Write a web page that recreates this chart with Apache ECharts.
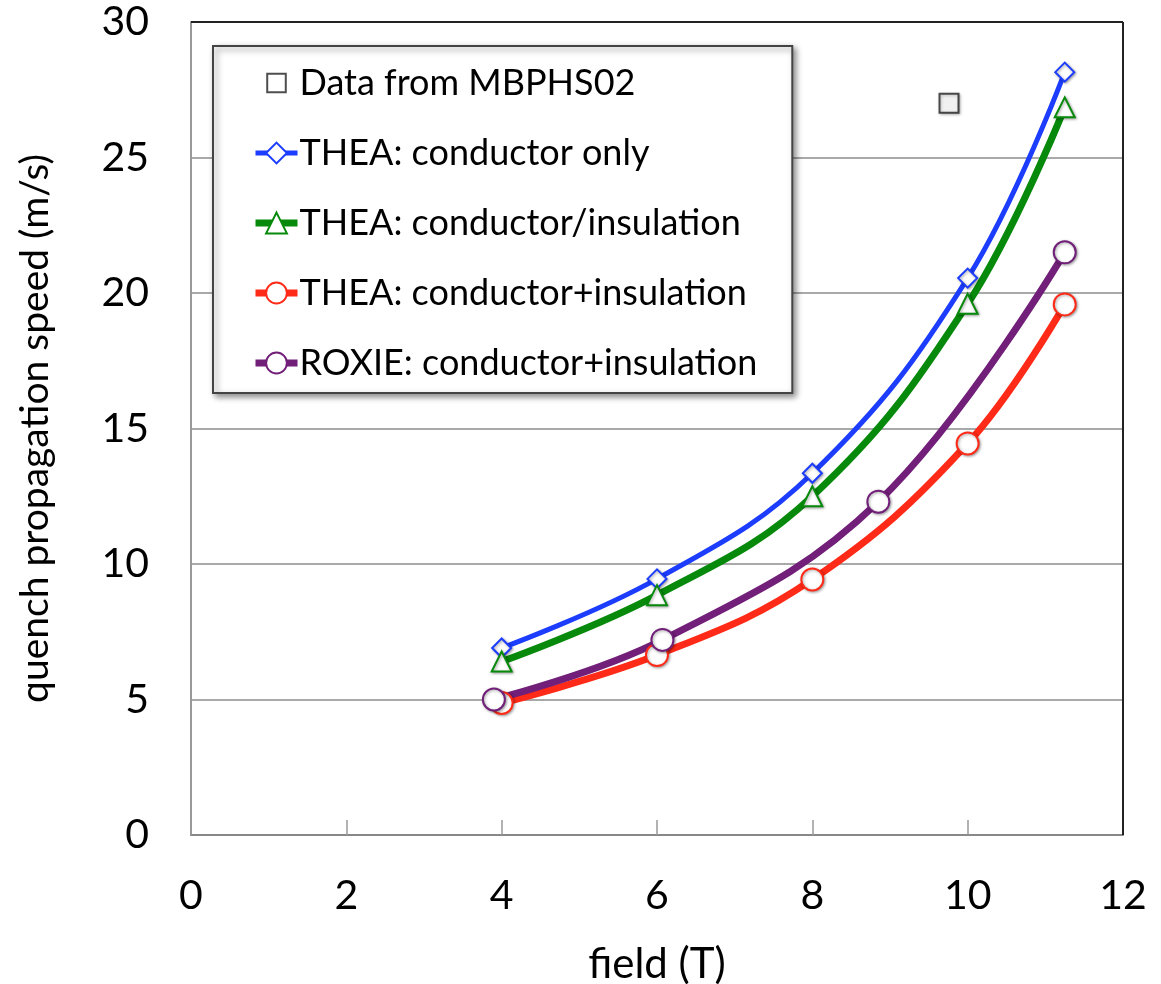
<!DOCTYPE html>
<html>
<head>
<meta charset="utf-8">
<script src="https://cdn.jsdelivr.net/npm/echarts@6/dist/echarts.min.js"></script>
<style>
html,body{margin:0;padding:0;background:#fff;}
#c{width:1161px;height:984px;}
</style>
</head>
<body>
<div id="c"></div>
<script>
// ---- data ----
const fieldTHEA = [4, 6, 8, 10, 11.25];
const theaConductorOnly = [6.9, 9.45, 13.35, 20.55, 28.15];
const theaConductorSlashInsulation = [6.4, 8.85, 12.5, 19.6, 26.85];
const theaConductorPlusInsulation = [4.87, 6.64, 9.43, 14.45, 19.58];
const fieldROXIE = [3.9, 6.07, 8.85, 11.25];
const roxieConductorPlusInsulation = [5.0, 7.2, 12.3, 21.5];
const measuredField = [9.76];
const measuredSpeed = [27.0];
const seriesNames = ['Data from MBPHS02', 'THEA: conductor only', 'THEA: conductor/insulation', 'THEA: conductor+insulation', 'ROXIE: conductor+insulation'];
const xTicks = [0, 2, 4, 6, 8, 10, 12];
const yTicks = [0, 5, 10, 15, 20, 25, 30];

const zip = (xs, ys) => xs.map((x, i) => [x, ys[i]]);
const FONT = 'Lato';

const chart = echarts.init(document.getElementById('c'));
const markerShadow = {shadowColor: 'rgba(0,0,0,0.35)', shadowBlur: 3, shadowOffsetX: 1, shadowOffsetY: 1};

function lineSeries(name, data, color, width, symbol, size) {
  return {
    name: name, type: 'line', data: data, smooth: 0.4,
    symbol: symbol, symbolSize: size, showAllSymbol: true,
    lineStyle: {color: color, width: width},
    itemStyle: Object.assign({color: '#fff', borderColor: color, borderWidth: 2}, markerShadow),
    emphasis: {disabled: true}, z: 3
  };
}

const legendData = seriesNames.map((n, i) => i === 0
  ? {name: n, icon: 'path://M-2,-2M0,0L10,0L10,10L0,10Z M12,12'}
  : {name: n});

chart.setOption({
  animation: false,
  grid: {left: 191, right: 38, top: 22, bottom: 149, containLabel: false, outerBoundsMode: 'none'},
  xAxis: {
    type: 'value', min: 0, max: 12, interval: 2,
    name: 'field (T)', nameLocation: 'middle', nameGap: 108,
    nameTextStyle: {fontFamily: FONT, fontSize: 42, color: '#000'},
    axisLine: {show: true, lineStyle: {color: '#888', width: 2}},
    axisTick: {show: true, inside: true, length: 15, lineStyle: {color: '#999', width: 1.5}},
    axisLabel: {fontFamily: FONT, fontSize: 41, color: '#000', margin: 40,
      formatter: v => xTicks.includes(v) ? String(v) : ''},
    splitLine: {show: false}
  },
  yAxis: {
    type: 'value', min: 0, max: 30, interval: 5,
    name: 'quench propagation speed (m/s)', nameLocation: 'middle', nameGap: 136,
    nameTextStyle: {fontFamily: FONT, fontSize: 39, color: '#000'},
    axisLine: {show: true, lineStyle: {color: '#999', width: 2}},
    axisTick: {show: false},
    axisLabel: {fontFamily: FONT, fontSize: 41, color: '#000', margin: 42,
      formatter: v => yTicks.includes(v) ? String(v) : ''},
    splitLine: {show: true, lineStyle: {color: '#8c8c8c', width: 1.5}}
  },
  legend: {
    orient: 'vertical', left: 213, top: 46,
    padding: [19, 35, 12, 39],
    itemWidth: 42, itemHeight: 26, itemGap: 34,
    backgroundColor: '#fff', borderColor: '#444', borderWidth: 2,
    shadowColor: 'rgba(0,0,0,0.45)', shadowBlur: 6, shadowOffsetX: 3, shadowOffsetY: 3,
    lineStyle: {width: 'inherit'},
    textStyle: {fontFamily: FONT, fontSize: 36, color: '#000', padding: [0, 0, 0, -3]},
    data: legendData,
    selectedMode: false
  },
  series: [
    {
      name: seriesNames[0], type: 'scatter', data: zip(measuredField, measuredSpeed),
      symbol: 'rect', symbolSize: 19,
      itemStyle: Object.assign({color: '#fff', borderColor: '#222', borderWidth: 2}, markerShadow),
      emphasis: {disabled: true}, z: 4
    },
    lineSeries(seriesNames[1], zip(fieldTHEA, theaConductorOnly), '#1c3dfe', 5, 'diamond', 19),
    lineSeries(seriesNames[2], zip(fieldTHEA, theaConductorSlashInsulation), '#078a0b', 7, 'triangle', 20),
    lineSeries(seriesNames[3], zip(fieldTHEA, theaConductorPlusInsulation), '#ff2a17', 7, 'circle', 22),
    lineSeries(seriesNames[4], zip(fieldROXIE, roxieConductorPlusInsulation), '#711f79', 7, 'circle', 22)
  ],
  graphic: [
    {type: 'line', shape: {x1: 191, y1: 22, x2: 1123, y2: 22}, style: {stroke: '#222', lineWidth: 2}, z: 1},
    {type: 'line', shape: {x1: 1123, y1: 22, x2: 1123, y2: 835}, style: {stroke: '#222', lineWidth: 2}, z: 1}
  ]
});
</script>
</body>
</html>
